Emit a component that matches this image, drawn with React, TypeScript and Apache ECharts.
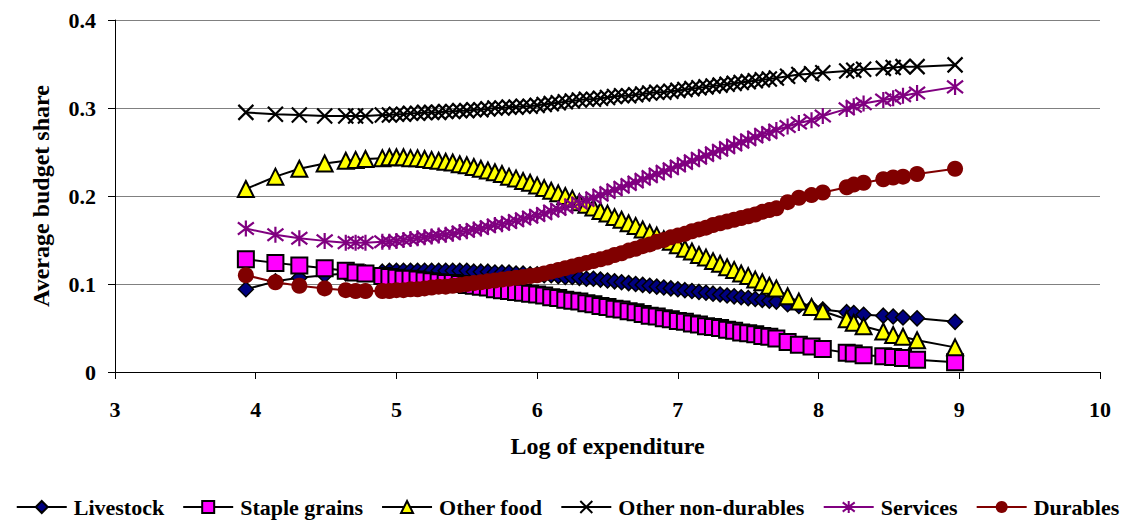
import React, { useEffect, useRef } from "react";
import * as echarts from "echarts";

const xValues = [
  3.93, 4.14, 4.31, 4.49, 4.64, 4.71, 4.78,
  4.90, 4.95, 5.00, 5.05, 5.10, 5.15, 5.20, 5.25, 5.30, 5.35,
  5.40, 5.45, 5.50, 5.55, 5.60, 5.65, 5.70, 5.75, 5.80, 5.85,
  5.90, 5.95, 6.00, 6.05, 6.10, 6.15, 6.20, 6.25, 6.30, 6.35,
  6.40, 6.45, 6.50, 6.55, 6.60, 6.65, 6.70, 6.75, 6.80, 6.85,
  6.90, 6.95, 7.00, 7.05, 7.10, 7.15, 7.20, 7.25, 7.30, 7.35,
  7.40, 7.45, 7.50, 7.55, 7.60, 7.65, 7.70,
  7.78, 7.86, 7.95, 8.03, 8.20, 8.25, 8.32, 8.46, 8.53, 8.60, 8.70, 8.97,
];

const livestock = [
  0.094, 0.103, 0.107, 0.110, 0.112, 0.113, 0.113,
  0.114, 0.115, 0.115, 0.115, 0.115, 0.115, 0.115, 0.115, 0.115, 0.115,
  0.115, 0.115, 0.115, 0.114, 0.114, 0.114, 0.113, 0.113, 0.113, 0.112,
  0.112, 0.111, 0.111, 0.110, 0.110, 0.109, 0.108, 0.108, 0.107, 0.106,
  0.106, 0.105, 0.104, 0.103, 0.102, 0.101, 0.100, 0.099, 0.098, 0.097,
  0.096, 0.095, 0.094, 0.093, 0.092, 0.091, 0.090, 0.089, 0.088, 0.087,
  0.086, 0.085, 0.084, 0.083, 0.082, 0.081, 0.080,
  0.077, 0.075, 0.073, 0.071, 0.068, 0.067, 0.065, 0.064, 0.063, 0.062, 0.061, 0.057,
];

const stapleGrains = [
  0.128, 0.124, 0.121, 0.118, 0.115, 0.113, 0.112,
  0.109, 0.108, 0.107, 0.106, 0.106, 0.105, 0.104, 0.103, 0.102, 0.101,
  0.101, 0.100, 0.099, 0.098, 0.097, 0.096, 0.094, 0.093, 0.092, 0.091,
  0.090, 0.089, 0.088, 0.087, 0.085, 0.084, 0.082, 0.081, 0.080, 0.078,
  0.077, 0.075, 0.074, 0.072, 0.071, 0.069, 0.068, 0.066, 0.064, 0.063,
  0.061, 0.060, 0.058, 0.057, 0.055, 0.054, 0.052, 0.051, 0.050, 0.048,
  0.047, 0.045, 0.044, 0.043, 0.041, 0.040, 0.038,
  0.034, 0.031, 0.029, 0.026, 0.022, 0.021, 0.019, 0.018, 0.017, 0.016, 0.014, 0.011,
];

const otherFood = [
  0.208, 0.222, 0.231, 0.237, 0.240, 0.241, 0.242,
  0.243, 0.244, 0.244, 0.244, 0.243, 0.243, 0.242, 0.241, 0.240, 0.239,
  0.238, 0.236, 0.235, 0.233, 0.231, 0.229, 0.227, 0.225, 0.222, 0.220,
  0.217, 0.215, 0.212, 0.209, 0.206, 0.203, 0.200, 0.197, 0.193, 0.190,
  0.187, 0.183, 0.180, 0.176, 0.173, 0.169, 0.166, 0.162, 0.158, 0.155,
  0.151, 0.148, 0.144, 0.140, 0.137, 0.133, 0.130, 0.126, 0.123, 0.119,
  0.116, 0.112, 0.109, 0.105, 0.102, 0.098, 0.095,
  0.086, 0.080, 0.074, 0.069, 0.060, 0.056, 0.052, 0.046, 0.042, 0.040, 0.036, 0.028,
];

const otherNonDurables = [
  0.295, 0.293, 0.292, 0.291, 0.291, 0.291, 0.291,
  0.292, 0.292, 0.293, 0.293, 0.294, 0.294, 0.295, 0.295, 0.295, 0.296,
  0.296, 0.297, 0.297, 0.298, 0.298, 0.299, 0.300, 0.300, 0.301, 0.301,
  0.302, 0.302, 0.303, 0.304, 0.305, 0.306, 0.307, 0.308, 0.309, 0.310,
  0.310, 0.311, 0.312, 0.313, 0.314, 0.314, 0.315, 0.316, 0.317, 0.318,
  0.318, 0.319, 0.320, 0.321, 0.322, 0.323, 0.324, 0.325, 0.326, 0.327,
  0.328, 0.329, 0.330, 0.331, 0.332, 0.333, 0.334,
  0.336, 0.338, 0.339, 0.340, 0.342, 0.343, 0.344, 0.345, 0.346, 0.347, 0.347, 0.349,
];

const services = [
  0.163, 0.156, 0.152, 0.149, 0.147, 0.147, 0.147,
  0.148, 0.148, 0.149, 0.150, 0.151, 0.152, 0.153, 0.154, 0.155, 0.156,
  0.157, 0.159, 0.160, 0.162, 0.163, 0.165, 0.167, 0.168, 0.170, 0.172,
  0.174, 0.176, 0.178, 0.180, 0.183, 0.185, 0.187, 0.190, 0.192, 0.195,
  0.198, 0.201, 0.204, 0.207, 0.210, 0.213, 0.216, 0.219, 0.222, 0.225,
  0.228, 0.231, 0.234, 0.237, 0.240, 0.243, 0.246, 0.249, 0.252, 0.255,
  0.258, 0.261, 0.264, 0.267, 0.270, 0.272, 0.275,
  0.279, 0.283, 0.286, 0.291, 0.299, 0.302, 0.305, 0.309, 0.311, 0.314, 0.317, 0.324,
];

const durables = [
  0.110, 0.102, 0.098, 0.095, 0.093, 0.092, 0.092,
  0.092, 0.092, 0.093, 0.093, 0.094, 0.094, 0.095, 0.096, 0.097, 0.097,
  0.098, 0.099, 0.100, 0.101, 0.102, 0.103, 0.104, 0.105, 0.106, 0.107,
  0.108, 0.109, 0.110, 0.112, 0.114, 0.116, 0.118, 0.120, 0.122, 0.124,
  0.126, 0.128, 0.130, 0.133, 0.135, 0.138, 0.140, 0.143, 0.145, 0.148,
  0.150, 0.153, 0.155, 0.157, 0.160, 0.162, 0.164, 0.167, 0.169, 0.171,
  0.173, 0.175, 0.177, 0.179, 0.182, 0.184, 0.186,
  0.193, 0.198, 0.201, 0.204, 0.210, 0.213, 0.215, 0.219, 0.221, 0.222, 0.225, 0.231,
];

const seriesNames = ["Livestock", "Staple grains", "Other food", "Other non-durables", "Services", "Durables"];
const xTicks = [3, 4, 5, 6, 7, 8, 9, 10];
const yTicks = [0, 0.1, 0.2, 0.3, 0.4];

const FONT = "'Liberation Serif', 'Times New Roman', serif";

const X_SYMBOL = "path://M0,0L10,10M10,0L0,10";
const STAR_SYMBOL = "path://M0,0L10,10M10,0L0,10M5,-1.5L5,11.5";

function pairs(ys: number[]) {
  return xValues.map((x, i) => [x, ys[i]]);
}

export default function App() {
  const ref = useRef<HTMLDivElement>(null);
  useEffect(() => {
    if (!ref.current) return;
    const chart = echarts.init(ref.current, undefined, { renderer: "svg" });
    const base = {
      type: "line",
      smooth: false,
      showAllSymbol: true,
      emphasis: { disabled: true },
    };
    const option: any = {
      animation: false,
      backgroundColor: "#ffffff",
      grid: { left: 115, right: 35, top: 20, bottom: 152, containLabel: false },
      xAxis: {
        type: "value",
        min: xTicks[0],
        max: xTicks[xTicks.length - 1],
        interval: 1,
        name: "Log of expenditure",
        nameLocation: "middle",
        nameGap: 62,
        nameTextStyle: { fontFamily: FONT, fontWeight: "bold", fontSize: 24, color: "#000" },
        axisLine: { onZero: false, lineStyle: { color: "#000", width: 1 } },
        axisTick: { show: true, inside: false, length: 7, lineStyle: { color: "#000" } },
        axisLabel: { fontFamily: FONT, fontWeight: "bold", fontSize: 22, color: "#000", margin: 26 },
        splitLine: { show: false },
      },
      yAxis: {
        type: "value",
        min: yTicks[0],
        max: yTicks[yTicks.length - 1],
        interval: 0.1,
        name: "Average budget share",
        nameLocation: "middle",
        nameGap: 62,
        nameTextStyle: { fontFamily: FONT, fontWeight: "bold", fontSize: 24, color: "#000" },
        axisLine: { show: true, lineStyle: { color: "#000", width: 1 } },
        axisTick: { show: true, inside: false, length: 7, lineStyle: { color: "#000" } },
        axisLabel: { fontFamily: FONT, fontWeight: "bold", fontSize: 22, color: "#000", margin: 19 },
        splitLine: { show: true, lineStyle: { color: "#808080", width: 1 } },
      },
      legend: {
        top: 491,
        left: "center",
        width: 1130,
        padding: [5, 0],
        itemWidth: 50,
        itemHeight: 15,
        itemGap: 18,
        textStyle: { fontFamily: FONT, fontWeight: "bold", fontSize: 22, color: "#000", padding: [0, 0, 0, 2] },
        data: seriesNames,
      },
      series: [
        {
          ...base,
          name: seriesNames[0],
          data: pairs(livestock),
          symbol: "diamond",
          symbolSize: 15,
          lineStyle: { color: "#000", width: 2 },
          itemStyle: { color: "#000080", borderColor: "#000", borderWidth: 1.5 },
        },
        {
          ...base,
          name: seriesNames[1],
          data: pairs(stapleGrains),
          symbol: "rect",
          symbolSize: 16,
          lineStyle: { color: "#000", width: 2 },
          itemStyle: { color: "#ff00ff", borderColor: "#000", borderWidth: 2 },
        },
        {
          ...base,
          name: seriesNames[2],
          data: pairs(otherFood),
          symbol: "triangle",
          symbolSize: 16,
          lineStyle: { color: "#000", width: 2 },
          itemStyle: { color: "#ffff00", borderColor: "#000", borderWidth: 2 },
        },
        {
          ...base,
          name: seriesNames[3],
          data: pairs(otherNonDurables),
          symbol: X_SYMBOL,
          symbolSize: 15,
          lineStyle: { color: "#000", width: 2 },
          itemStyle: { color: "none", borderColor: "#000", borderWidth: 2.2 },
        },
        {
          ...base,
          name: seriesNames[4],
          data: pairs(services),
          symbol: STAR_SYMBOL,
          symbolSize: 16,
          lineStyle: { color: "#800080", width: 2 },
          itemStyle: { color: "none", borderColor: "#800080", borderWidth: 2.2 },
        },
        {
          ...base,
          name: seriesNames[5],
          data: pairs(durables),
          symbol: "circle",
          symbolSize: 16,
          lineStyle: { color: "#800000", width: 2 },
          itemStyle: { color: "#800000", borderColor: "#800000", borderWidth: 0 },
        },
      ],
    };
    chart.setOption(option);
    return () => chart.dispose();
  }, []);
  return (
    <div
      ref={ref}
      style={{ position: "absolute", left: 0, top: 0, width: 1135, height: 524, background: "#fff" }}
    />
  );
}
